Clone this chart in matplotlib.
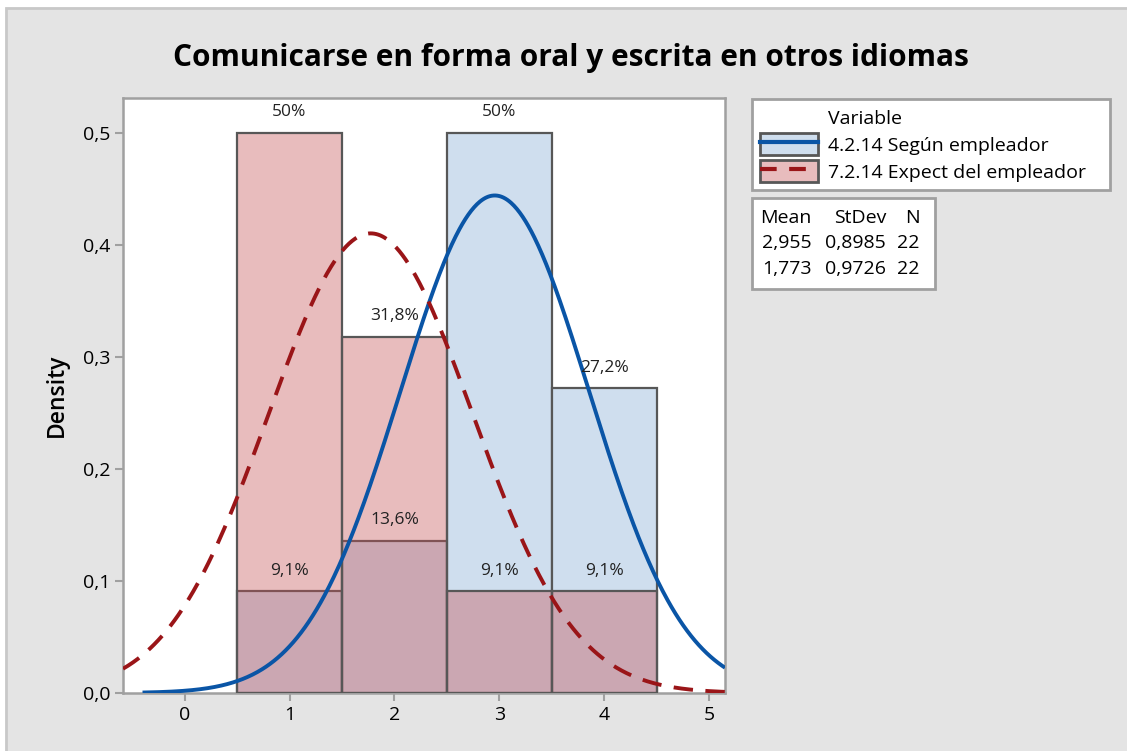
import numpy as np
import matplotlib
matplotlib.use("Agg")
import matplotlib.pyplot as plt
from matplotlib.patches import Patch, Rectangle
from matplotlib.lines import Line2D
from matplotlib.legend_handler import HandlerTuple
from matplotlib.ticker import FuncFormatter

# --- datos ---
bin_centers = [1, 2, 3, 4]
segun_pct = [9.1, 13.6, 50.0, 27.2]      # 4.2.14 Según empleador
expect_pct = [50.0, 31.8, 9.1, 9.1]      # 7.2.14 Expect del empleador
series_labels = ["4.2.14 Según empleador", "7.2.14 Expect del empleador"]
means = [2.955, 1.773]
stdevs = [0.8985, 0.9726]
counts = [22, 22]
title = "Comunicarse en forma oral y escrita en otros idiomas"

plt.rcParams['font.family'] = ['Open Sans', 'DejaVu Sans']

W, H = 1127, 751
fig = plt.figure(figsize=(W / 100, H / 100), dpi=100, facecolor='white')

# marco gris de fondo
fig.patches.append(Rectangle((6 / W, -0.05), 1.1, 1 - 8 / H + 0.05,
                             transform=fig.transFigure, facecolor='#e4e4e4',
                             edgecolor='#c8c8c8', lw=2, zorder=-10))

ax = fig.add_axes([123 / W, 1 - 693 / H, (725 - 123) / W, (693 - 98) / H])
ax.set_facecolor('white')

blue_fill = '#cfdeee'
red_fill = (197 / 255, 79 / 255, 82 / 255, 0.38)
edge = '#575757'
blue_line = '#0a55a6'
red_line = '#9a1518'

# histogramas (densidad, ancho de clase 1)
segun_d = np.array(segun_pct) / 100
expect_d = np.array(expect_pct) / 100
ax.bar(bin_centers, segun_d, width=1.0, facecolor=blue_fill, edgecolor=edge,
       linewidth=1.6, zorder=2)
ax.bar(bin_centers, expect_d, width=1.0, facecolor=red_fill, edgecolor=edge,
       linewidth=1.6, zorder=3)

def pct_text(v):
    s = f"{v:.1f}".replace('.', ',')
    if s.endswith(',0'):
        s = s[:-2]
    return s + '%'

for xc, v in zip(bin_centers, segun_pct):
    ax.text(xc, v / 100 + 0.011, pct_text(v), ha='center', va='bottom',
            fontsize=12.5, color='#222222', zorder=6)
for xc, v in zip(bin_centers, expect_pct):
    ax.text(xc, v / 100 + 0.011, pct_text(v), ha='center', va='bottom',
            fontsize=12.5, color='#222222', zorder=6)

# curvas normales ajustadas
x_lo, x_hi = -0.586, 5.148
xb = np.linspace(-0.40, x_hi, 600)
xr = np.linspace(x_lo, x_hi, 600)

def npdf(x, m, s):
    return np.exp(-0.5 * ((x - m) / s) ** 2) / (s * np.sqrt(2 * np.pi))

ax.plot(xb, npdf(xb, means[0], stdevs[0]), color=blue_line, lw=2.8, zorder=5,
        solid_capstyle='butt')
ax.plot(xr, npdf(xr, means[1], stdevs[1]), color=red_line, lw=2.8, zorder=5,
        dashes=(5, 3.2))

ax.set_xlim(x_lo, x_hi)
ax.set_ylim(0, 0.531)
ax.set_xticks([0, 1, 2, 3, 4, 5])
ax.set_yticks([0, 0.1, 0.2, 0.3, 0.4, 0.5])
ax.yaxis.set_major_formatter(FuncFormatter(lambda v, p: f"{v:.1f}".replace('.', ',')))
for s in ax.spines.values():
    s.set_color('#a0a0a0')
    s.set_linewidth(1.8)
ax.tick_params(axis='both', colors='#a0a0a0', labelcolor='black', length=6,
               width=1.5, labelsize=14, pad=3)

ax.set_ylabel('Density', fontsize=16.5, fontweight='semibold', labelpad=10)
fig.text(571 / W, 1 - 58 / H, title, ha='center', va='center', fontsize=21.5,
         fontweight='bold')

# leyenda
h_blue = (Patch(facecolor=blue_fill, edgecolor=edge, lw=2),
          Line2D([], [], color=blue_line, lw=3))
h_red = (Patch(facecolor=red_fill, edgecolor=edge, lw=2),
         Line2D([], [], color=red_line, lw=3, dashes=(4, 3)))
h_title = Patch(visible=False)
leg = fig.legend([h_title, h_blue, h_red], ['Variable'] + series_labels,
                 handler_map={tuple: HandlerTuple(ndivide=1)},
                 loc='upper left',
                 bbox_to_anchor=(752 / W, 1 - 190 / H, (1110 - 752) / W, (190 - 99) / H),
                 mode='expand', borderaxespad=0, fontsize=14,
                 handlelength=3.0, handleheight=1.35, handletextpad=0.5,
                 labelspacing=0.25, borderpad=0.4, fancybox=False,
                 edgecolor='#a0a0a0', framealpha=1)
leg.get_frame().set_linewidth(2)

# tabla de estadísticos
fig.patches.append(Rectangle((752 / W, 1 - 289 / H), (935 - 752) / W, (289 - 198) / H,
                             transform=fig.transFigure, facecolor='white',
                             edgecolor='#a0a0a0', lw=2))
col_right = [812, 886, 920]
rows_y = [218, 243, 269]
header = ['Mean', 'StDev', 'N']
for xr_, t in zip(col_right, header):
    fig.text(xr_ / W, 1 - rows_y[0] / H, t, ha='right', va='center', fontsize=14)
for i in range(2):
    vals = [f"{means[i]:.3f}".replace('.', ','),
            f"{stdevs[i]:.4f}".replace('.', ','), str(counts[i])]
    for xr_, t in zip(col_right, vals):
        fig.text(xr_ / W, 1 - rows_y[i + 1] / H, t, ha='right', va='center',
                 fontsize=14)

fig.savefig('out.png', dpi=100, facecolor=fig.get_facecolor())
